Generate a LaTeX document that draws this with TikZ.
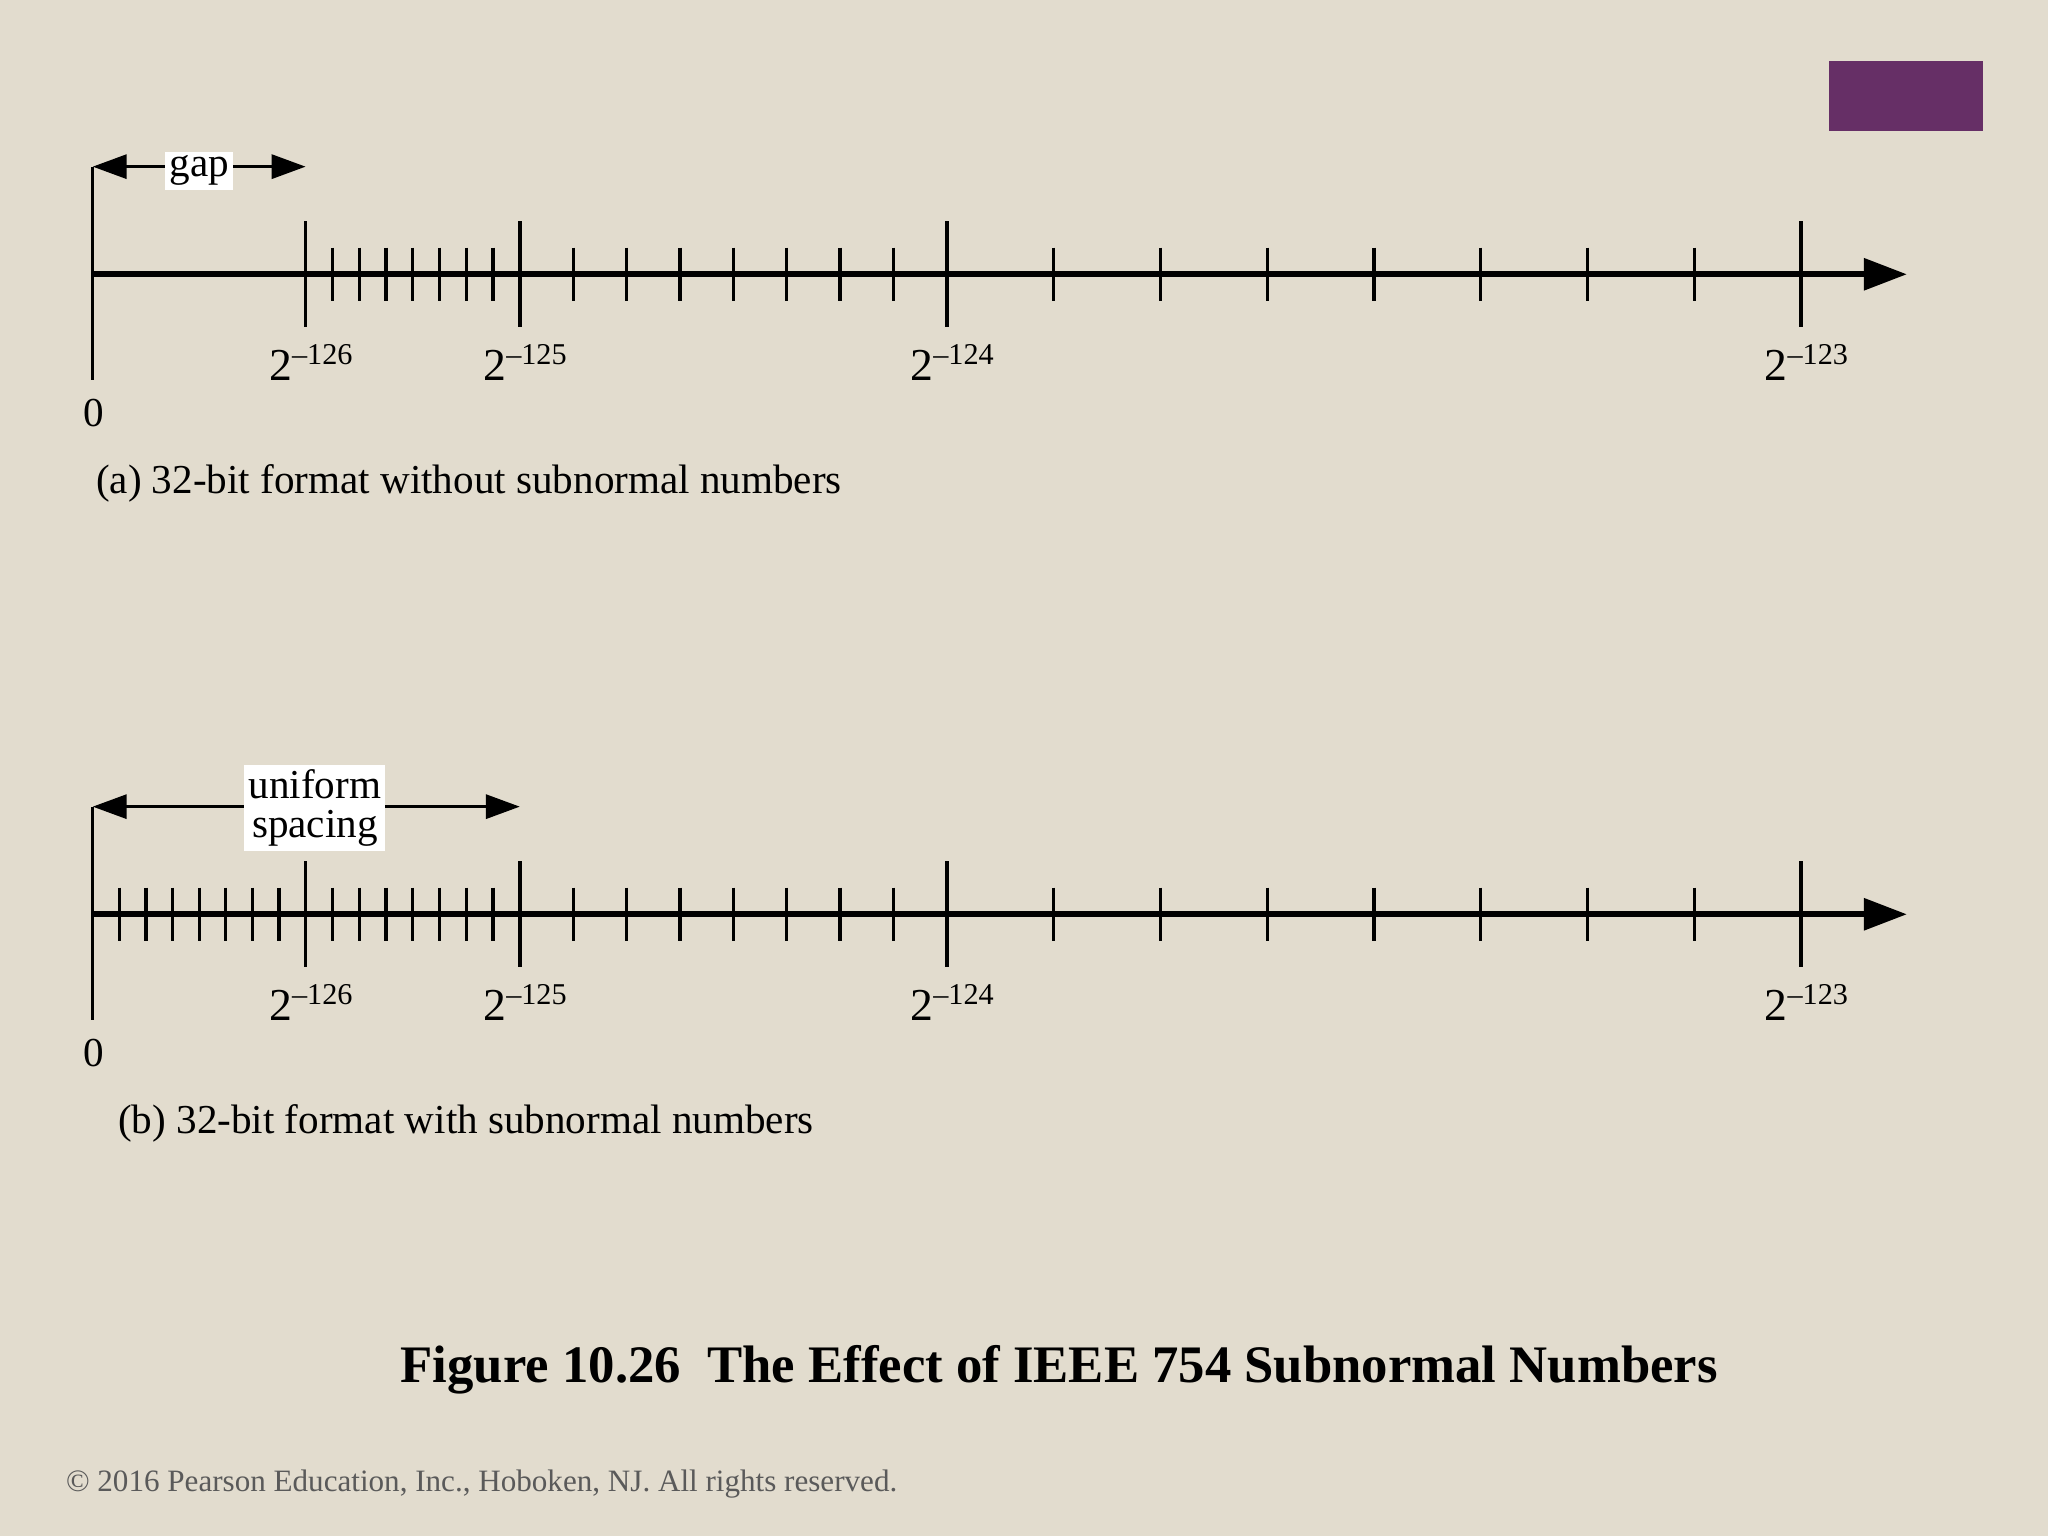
\documentclass[tikz,border=0pt]{standalone}
\usepackage{fontspec}
\setmainfont{Liberation Serif}
\usetikzlibrary{arrows.meta,positioning}
\definecolor{paper}{RGB}{226,220,206}
\definecolor{plum}{RGB}{102,47,102}
\definecolor{notegray}{RGB}{90,90,90}
\newcommand{\pwr}[1]{2\raisebox{4.5pt}{\fontsize{8.6}{9}\selectfont –#1}}

\begin{document}
\begin{tikzpicture}[x=0.13061mm,y=-0.13061mm,
    axis line/.style={line width=1.7pt,-{Triangle[length=4.3mm,width=3.1mm]}},
    tick line/.style={line width=0.95pt},
    span arrow/.style={line width=0.95pt,{Triangle[length=3.4mm,width=2.4mm]}-{Triangle[length=3.4mm,width=2.4mm]}},
    span label/.style={fill=white,inner sep=1.2pt,align=center,font=\fontsize{11.7}{11.3}\selectfont},
    power label/.style={anchor=base,inner sep=0pt,font=\fontsize{13}{14}\selectfont},
    zero label/.style={inner sep=0pt,font=\fontsize{11.7}{13}\selectfont},
    caption label/.style={anchor=west,inner sep=0pt,font=\fontsize{11.7}{13}\selectfont}]

  \fill[paper] (0,0) rectangle (1568,1176);
  \useasboundingbox (0,0) rectangle (1568,1176);
  \fill[plum] (1400,47) rectangle (1518,100);

  % (a) without subnormal numbers
  \coordinate (zeroA) at (71,210);
  \coordinate (zeroTopA) at (71,127.6);
  \coordinate (zeroBotA) at (71,291);
  \coordinate (endA) at (1460,210);
  \coordinate (gapEndA) at (234,127.6);
  \draw[tick line] (zeroTopA) -- (zeroBotA);
  \draw[axis line] (zeroA) -- (endA);
  \foreach \x in {234,398,725,1379}
    \draw[tick line] (\x,169.4) -- (\x,250.6);
  \foreach \i in {1,...,7} {
    \draw[tick line] (234+\i*20.5,189.6) -- (234+\i*20.5,230.4);
    \draw[tick line] (398+\i*40.875,189.6) -- (398+\i*40.875,230.4);
    \draw[tick line] (725+\i*81.75,189.6) -- (725+\i*81.75,230.4);
  }
  \path (zeroTopA) edge[span arrow] node[span label,yshift=-1.2pt] (gap) {gap} (gapEndA);
  \node[zero label] (zeroLabelA) at (72,316) {0};
  \node[power label] (p126A) at (238,291) {\pwr{126}};
  \node[power label] (p125A) at (402,291) {\pwr{125}};
  \node[power label] (p124A) at (729,291) {\pwr{124}};
  \node[power label] (p123A) at (1383,291) {\pwr{123}};
  \node[caption label] (capA) at (73,370) {(a) 32-bit format without subnormal numbers};

  % (b) with subnormal numbers
  \coordinate (zeroB) at (71,700);
  \coordinate (zeroTopB) at (71,617.6);
  \coordinate (zeroBotB) at (71,781);
  \coordinate (endB) at (1460,700);
  \coordinate (spanEndB) at (398,617.6);
  \draw[tick line] (zeroTopB) -- (zeroBotB);
  \draw[axis line] (zeroB) -- (endB);
  \foreach \x in {234,398,725,1379}
    \draw[tick line] (\x,659.4) -- (\x,740.6);
  \foreach \i in {1,...,7} {
    \draw[tick line] (71+\i*20.375,679.6) -- (71+\i*20.375,720.4);
    \draw[tick line] (234+\i*20.5,679.6) -- (234+\i*20.5,720.4);
    \draw[tick line] (398+\i*40.875,679.6) -- (398+\i*40.875,720.4);
    \draw[tick line] (725+\i*81.75,679.6) -- (725+\i*81.75,720.4);
  }
  \path (zeroTopB) edge[span arrow] node[span label,pos=0.52,yshift=-0.4pt] (uniform) {uniform\\spacing} (spanEndB);
  \node[zero label] (zeroLabelB) at (72,806) {0};
  \node[power label] (p126B) at (238,781) {\pwr{126}};
  \node[power label] (p125B) at (402,781) {\pwr{125}};
  \node[power label] (p124B) at (729,781) {\pwr{124}};
  \node[power label] (p123B) at (1383,781) {\pwr{123}};
  \node[caption label] (capB) at (90,860) {(b) 32-bit format with subnormal numbers};

  \node[inner sep=0pt,font=\fontsize{15}{18}\selectfont\bfseries] (title) at (811,1049)
    {Figure 10.26\ \ The Effect of IEEE 754 Subnormal Numbers};
  \node[anchor=west,inner sep=0pt,text=notegray,font=\fontsize{8.85}{10}\selectfont] (copy) at (50,1136)
    {© 2016 Pearson Education, Inc., Hoboken, NJ. All rights reserved.};
\end{tikzpicture}
\end{document}
